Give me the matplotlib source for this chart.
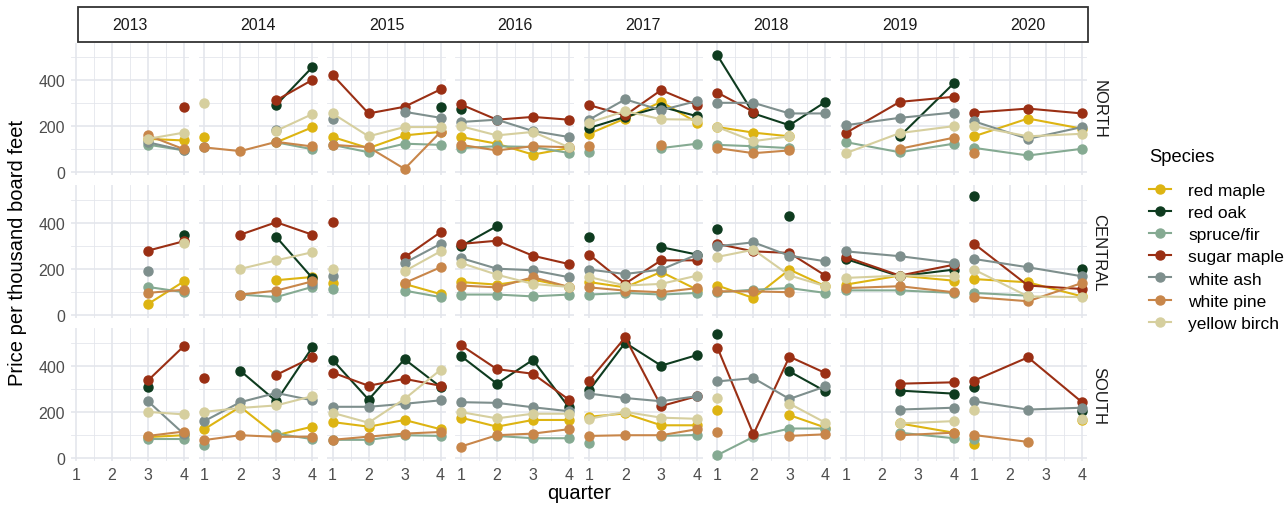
import numpy as np
import matplotlib
matplotlib.use("Agg")
import matplotlib.pyplot as plt
from matplotlib.lines import Line2D
from matplotlib.patches import Rectangle

n = np.nan
years = [2013, 2014, 2015, 2016, 2017, 2018, 2019, 2020]
regions = ["NORTH", "CENTRAL", "SOUTH"]
species = ["red maple", "red oak", "spruce/fir", "sugar maple", "white ash", "white pine", "yellow birch"]
colors = ["#DDB412", "#0E3B1F", "#85AA92", "#9A2F14", "#7E8F8D", "#C8864A", "#D6CF9E"]
q_full = [1, 2, 3, 4]
q_half = [1, 2.5, 4]
xticks = [1, 2, 3, 4]
yticks = [0, 200, 400]

red_maple = {
    "NORTH": [[n, n, 145, 138], [152, n, 130, 195], [153, 105, 160, 175], [153, 124, 77, 105],
              [167, 233, 305, 215], [196, 172, 156, n], [n, n, n], [156, 233, 189]],
    "CENTRAL": [[n, n, 49, 147], [n, n, 152, 166], [140, n, 136, 92], [144, 133, 155, 123],
                [144, 121, 188, 111], [129, 75, 198, 126], [133, 172, 150], [157, 143, 82]],
    "SOUTH": [[n, n, 92, 100], [126, 223, 100, 137], [157, 137, 166, 126], [176, 137, 166, 166],
              [180, 194, 143, 143], [209, n, 187, 133], [n, 151, 111], [61, n, 166]],
}
red_oak = {
    "NORTH": [[n, n, n, n], [n, n, 292, 455], [n, n, n, 284], [276, n, n, n],
              [192, 240, 284, 243], [506, 255, 204, 305], [n, 156, 385], [n, n, n]],
    "CENTRAL": [[n, n, n, 349], [n, n, 339, 162], [n, n, n, n], [299, 386, n, n],
                [339, n, 295, 263], [374, n, 432, n], [244, 169, 198], [518, n, 202]],
    "SOUTH": [[n, n, 307, n], [n, 379, 247, 480], [426, 254, 429, 309], [443, 323, 426, 221],
              [294, 500, 401, 447], [536, n, 376, 290], [n, 293, 280], [309, n, 204]],
}
spruce_fir = {
    "NORTH": [[n, n, 120, 95], [108, n, 130, 100], [119, 87, 124, 119], [105, 113, 110, 84],
              [90, n, 105, 124], [119, 113, 105, n], [131, 87, 124], [106, 73, 102]],
    "CENTRAL": [[n, n, 123, 100], [n, 90, 79, 123], [116, n, 107, 79], [90, 90, 82, 90],
                [90, 97, 90, 97], [100, 111, 118, 97], [108, 108, 97], [97, 85, n]],
    "SOUTH": [[n, n, 83, 83], [59, n, 107, 83], [80, 80, 100, 97], [n, 97, 87, 87],
              [66, n, 97, 101], [14, 93, 129, 129], [n, 111, 87], [83, n, n]],
}
sugar_maple = {
    "NORTH": [[n, n, n, 284], [n, n, 312, 400], [422, 255, 284, 359], [294, 228, 240, 228],
              [291, 247, 356, 291], [345, 262, n, n], [170, 305, 327], [259, 276, 255]],
    "CENTRAL": [[n, n, 280, 321], [n, 349, 403, 349], [403, n, 251, 360], [309, 323, 258, 222],
                [263, 137, 238, 238], [309, 277, 270, 172], [253, 172, 219], [310, 129, 114]],
    "SOUTH": [[n, n, 337, 486], [347, n, 361, 437], [371, 314, 344, 314], [490, 386, 366, 254],
              [336, 523, 226, 269], [479, 104, 440, 369], [n, 323, 329], [336, 437, 243]],
}
white_ash = {
    "NORTH": [[n, n, 130, 95], [n, n, 185, n], [233, n, 262, 236], [218, 228, 179, 153],
              [228, 316, 269, 309], [301, 301, 255, 255], [204, 236, 259], [221, 145, 196]],
    "CENTRAL": [[n, n, 191, n], [n, n, n, 135], [169, n, 227, 309], [248, 202, 195, 165],
                [198, 179, 198, 263], [299, 316, 258, 234], [277, 256, 227], [244, 208, 169]],
    "SOUTH": [[n, n, 247, 105], [161, 243, 283, 251], [223, 223, 236, 251], [243, 240, 221, 204],
              [280, 261, 247, 269], [333, 347, 257, 311], [n, 211, 219], [247, 211, 219]],
}
white_pine = {
    "NORTH": [[n, n, 160, 100], [108, 92, 132, 112], [119, 109, 15, 175], [119, 95, 113, 109],
              [112, n, 119, n], [105, 83, 95, n], [n, 102, 150], [84, n, n]],
    "CENTRAL": [[n, n, 97, 111], [n, 90, 107, 147], [n, n, 140, 208], [129, 121, 165, 123],
                [121, 107, 100, 118], [104, 104, 100, n], [118, 126, 100], [79, 61, 140]],
    "SOUTH": [[n, n, 97, 116], [79, 100, 93, 94], [80, 94, 107, 114], [51, 100, 107, 126],
              [97, 100, 100, 126], [114, n, 97, 104], [n, 100, 111], [101, 71, n]],
}
yellow_birch = {
    "NORTH": [[n, n, 145, 172], [302, n, 180, 252], [255, 156, 196, 196], [200, 160, 175, 109],
              [215, 265, 230, 228], [196, 135, 156, n], [83, 170, 200], [200, 156, 167]],
    "CENTRAL": [[n, n, n, 313], [n, 201, 238, 273], [201, n, 191, 277], [227, 176, 136, 123],
                [166, 129, 136, 172], [253, 284, 173, 126], [162, 172, 170], [198, 82, 79]],
    "SOUTH": [[n, n, 201, 190], [201, 218, 229, 269], [197, 154, 257, 383], [200, 173, 193, 193],
              [171, 201, 176, 171], [261, n, 237, 154], [n, 151, 161], [209, n, 171]],
}
series = [red_maple, red_oak, spruce_fir, sugar_maple, white_ash, white_pine, yellow_birch]

plt.rcParams["font.family"] = ["Liberation Sans", "DejaVu Sans"]
W, H = 1286, 510
fig = plt.figure(figsize=(W / 100, H / 100), dpi=100)
left, right = 70.6 / W, 1087.4 / W
top, bottom = 1 - 43.5 / H, 1 - 462.1 / H
axes = fig.subplots(3, 8, sharey=True)
fig.subplots_adjust(left=left, right=right, top=top, bottom=bottom, wspace=0.08, hspace=0.078)

grid_c = "#E4E6EC"
for r, reg in enumerate(regions):
    for c, yr in enumerate(years):
        ax = axes[r, c]
        ax.set_facecolor("white")
        for s in ax.spines.values():
            s.set_visible(False)
        ax.set_xlim(0.85, 4.15)
        ax.set_ylim(-12, 562)
        ax.set_xticks(xticks)
        ax.set_xticks([1.5, 2.5, 3.5], minor=True)
        ax.set_yticks(yticks)
        ax.set_yticks([100, 300, 500], minor=True)
        ax.grid(True, which="major", color=grid_c, lw=1.2, zorder=0)
        ax.grid(True, which="minor", color=grid_c, lw=0.6, zorder=0)
        ax.set_axisbelow(True)
        ax.tick_params(which="both", length=0, labelsize=11.5, labelcolor="#4D4D4D", pad=4)
        if r < 2:
            ax.tick_params(labelbottom=False)
        if c > 0:
            ax.tick_params(labelleft=False)
        xs = q_half if yr >= 2019 else q_full
        for sp, col, data in zip(species, colors, series):
            vals = np.array(data[reg][c], dtype=float)
            ax.plot(xs, vals, color=col, lw=1.5, marker="o", ms=6.5, zorder=3,
                    solid_capstyle="round")
        if c == 7:
            ax.text(1.035, 0.5, reg, transform=ax.transAxes, rotation=-90,
                    ha="left", va="center", fontsize=12, color="#1A1A1A")

# strip box
fig.patches.append(Rectangle((78 / W, 1 - 43 / H), (1088 - 78) / W, 35 / H,
                             transform=fig.transFigure, fill=False, ec="#333333", lw=1.3))
for c, yr in enumerate(years):
    pos = axes[0, c].get_position()
    fig.text((pos.x0 + pos.x1) / 2, 1 - 26 / H, str(yr), ha="center", va="center",
             fontsize=11.5, color="#1A1A1A")

fig.text(18 / W, 0.5 * (top + bottom), "Price per thousand board feet", rotation=90,
         ha="center", va="center", fontsize=14.5)
fig.text(0.5 * (left + right), 1 - 494 / H, "quarter", ha="center", va="center", fontsize=14.5)

handles = [Line2D([], [], color=col, lw=1.5, marker="o", ms=6.5) for col in colors]
leg = fig.legend(handles, species, title="Species", loc="upper left",
                 bbox_to_anchor=(1142 / W, 1 - 142 / H), frameon=False,
                 fontsize=12.5, title_fontsize=13.2, handlelength=1.25,
                 labelspacing=0.4, handletextpad=1.0, borderaxespad=0)
leg._legend_box.align = "left"
leg._legend_box.sep = 13

fig.savefig("out.png", dpi=100)
